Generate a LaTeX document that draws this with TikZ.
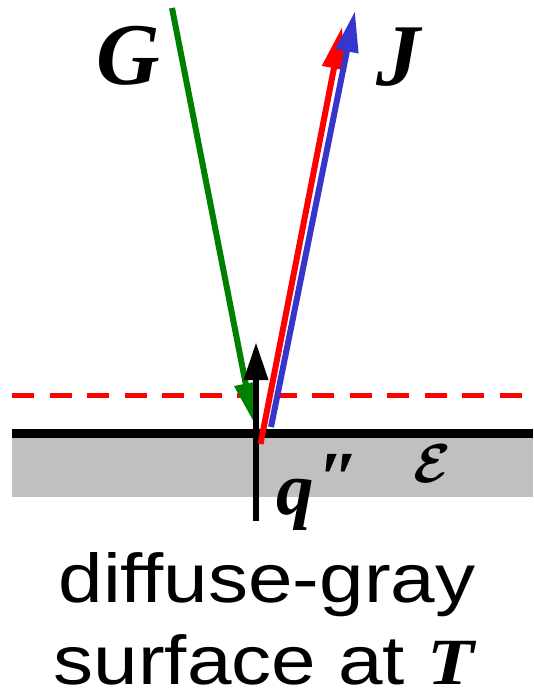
\documentclass[tikz,border=0pt]{standalone}
\usepackage{amsmath}
\usepackage{fontspec}
\setmainfont{Liberation Serif}
\newfontfamily\sansf{Liberation Sans}
\usetikzlibrary{arrows.meta}
\definecolor{surf}{HTML}{C0C0C0}
\definecolor{gArrow}{HTML}{008000}
\definecolor{rArrow}{HTML}{FF0000}
\definecolor{bArrow}{HTML}{3636CC}
\tikzset{
  ray/.style={line width=6pt, -{Triangle[length=38pt,width=22pt]}},
  biglabel/.style={inner sep=0pt, anchor=base, font=\bfseries\itshape\fontsize{88}{90}\selectfont},
  caption/.style={inner sep=0pt, anchor=base, font=\sansf\fontsize{69}{72}\selectfont}
}
\begin{document}
\begin{tikzpicture}[x=1pt,y=-1pt]
\useasboundingbox (0,0) rectangle (533,692);
% surface body
\fill[surf] (12,437) rectangle (533,497);
\coordinate (sL) at (12,433.5);
\coordinate (sR) at (533,433.5);
\draw[line width=8.5pt] (sL) -- (sR);
% dashed control surface
\coordinate (dL) at (12,395.5);
\coordinate (dR) at (533,395.5);
\draw[rArrow, line width=5pt, dash pattern=on 22pt off 15.5pt] (dL) -- (dR);
% rays
\coordinate (gS) at (172,8);
\coordinate (gE) at (253,421);
\coordinate (qS) at (256,521);
\coordinate (qE) at (256,342);
\coordinate (rS) at (260.5,444);
\coordinate (rE) at (342,27);
\coordinate (bS) at (271,427);
\coordinate (bE) at (355,11);
\draw[ray, gArrow] (gS) -- (gE);
\draw[ray, line width=6.5pt, -{Triangle[length=38pt,width=23pt]}, black] (qS) -- (qE);
\draw[ray, rArrow, -{Triangle[length=42pt,width=23pt]}] (rS) -- (rE);
\draw[ray, bArrow, -{Triangle[length=41pt,width=22pt]}] (bS) -- (bE);
% labels
\node[biglabel] (G) at (128,85) {G};
\node[biglabel] (J) at (398,86) {J};
\node[inner sep=0pt, anchor=base, font=\bfseries\itshape\fontsize{75}{78}\selectfont] (q) at (318,514) {q\kern5pt\raisebox{11pt}{″}};
\node[inner sep=0pt, anchor=base] (eps) at (432,482) {\scalebox{2.2}{\fontsize{24.88}{26}\selectfont$\boldsymbol{\mathcal{E}}$}};
\node[caption] (c1) at (267,602) {\scalebox{1.16}[1]{diffuse-gray}};
\node[caption] (c2) at (264,684) {\scalebox{1.16}[1]{surface at {\rmfamily\bfseries\itshape\fontsize{66}{68}\selectfont T}}};
\end{tikzpicture}
\end{document}
